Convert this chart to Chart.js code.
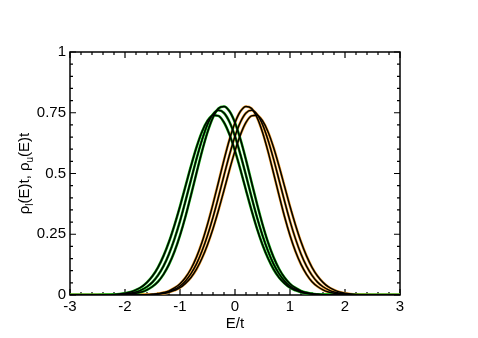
<!DOCTYPE html>
<html lang="en">
<head>
    <meta charset="UTF-8">
    <title>Density of states</title>
    <script src="https://cdn.jsdelivr.net/npm/chart.js"></script>
    <style>
        body {
            margin: 0;
            background: #ffffff;
        }

        .chart-box {
            width: 478px;
            height: 338px;
        }
    </style>
</head>
<body>
    <div class="chart-box">
        <canvas id="dosChart" width="478" height="338"></canvas>
    </div>

    <script>
        // energy grid E/t
        const energies = [
            -3.0, -2.9, -2.8, -2.7, -2.6, -2.5, -2.4, -2.3, -2.2, -2.1,
            -2.0, -1.9, -1.8, -1.7, -1.6, -1.5, -1.4, -1.3, -1.2, -1.1,
            -1.0, -0.9, -0.8, -0.7, -0.6, -0.5, -0.4, -0.3, -0.2, -0.1,
            0.0, 0.1, 0.2, 0.3, 0.4, 0.5, 0.6, 0.7, 0.8, 0.9,
            1.0, 1.1, 1.2, 1.3, 1.4, 1.5, 1.6, 1.7, 1.8, 1.9,
            2.0, 2.1, 2.2, 2.3, 2.4, 2.5, 2.6, 2.7, 2.8, 2.9, 3.0
        ];

        // rho_l (green curves)
        const lowerA = [
            0, 0, 0, 0, 0, 0, 0, 0, 0.001, 0.001,
            0.002, 0.004, 0.007, 0.012, 0.021, 0.035, 0.055, 0.085, 0.126, 0.179,
            0.245, 0.323, 0.411, 0.502, 0.591, 0.670, 0.731, 0.768, 0.776, 0.756,
            0.709, 0.640, 0.556, 0.465, 0.375, 0.291, 0.217, 0.156, 0.108, 0.072,
            0.046, 0.029, 0.017, 0.010, 0.005, 0.003, 0.002, 0.001, 0, 0,
            0, 0, 0, 0, 0, 0, 0, 0, 0, 0, 0
        ];
        const lowerB = [
            0, 0, 0, 0, 0, 0, 0, 0.001, 0.001, 0.002,
            0.004, 0.007, 0.012, 0.021, 0.034, 0.053, 0.081, 0.119, 0.169, 0.231,
            0.304, 0.387, 0.474, 0.560, 0.638, 0.702, 0.744, 0.760, 0.749, 0.712,
            0.653, 0.577, 0.492, 0.404, 0.320, 0.245, 0.181, 0.128, 0.088, 0.058,
            0.037, 0.023, 0.014, 0.008, 0.004, 0.002, 0.001, 0.001, 0, 0,
            0, 0, 0, 0, 0, 0, 0, 0, 0, 0, 0
        ];
        const lowerC = [
            0, 0, 0, 0, 0, 0, 0.001, 0.001, 0.002, 0.004,
            0.007, 0.012, 0.021, 0.033, 0.052, 0.078, 0.114, 0.161, 0.219, 0.288,
            0.365, 0.448, 0.531, 0.608, 0.672, 0.717, 0.740, 0.737, 0.710, 0.660,
            0.593, 0.515, 0.431, 0.349, 0.273, 0.207, 0.151, 0.106, 0.072, 0.048,
            0.030, 0.019, 0.011, 0.006, 0.004, 0.002, 0.001, 0.001, 0, 0,
            0, 0, 0, 0, 0, 0, 0, 0, 0, 0, 0
        ];

        // rho_u (orange curves)
        const upperA = [
            0, 0, 0, 0, 0, 0, 0, 0, 0, 0,
            0, 0, 0, 0.001, 0.002, 0.003, 0.005, 0.010, 0.017, 0.029,
            0.046, 0.072, 0.108, 0.156, 0.217, 0.291, 0.375, 0.465, 0.556, 0.640,
            0.709, 0.756, 0.776, 0.768, 0.731, 0.670, 0.591, 0.502, 0.411, 0.323,
            0.245, 0.179, 0.126, 0.085, 0.055, 0.035, 0.021, 0.012, 0.007, 0.004,
            0.002, 0.001, 0.001, 0, 0, 0, 0, 0, 0, 0, 0
        ];
        const upperB = [
            0, 0, 0, 0, 0, 0, 0, 0, 0, 0,
            0, 0, 0, 0.001, 0.001, 0.002, 0.004, 0.008, 0.014, 0.023,
            0.037, 0.058, 0.088, 0.128, 0.181, 0.245, 0.320, 0.404, 0.492, 0.577,
            0.653, 0.712, 0.749, 0.760, 0.744, 0.702, 0.638, 0.560, 0.474, 0.387,
            0.304, 0.231, 0.169, 0.119, 0.081, 0.053, 0.034, 0.021, 0.012, 0.007,
            0.004, 0.002, 0.001, 0.001, 0, 0, 0, 0, 0, 0, 0
        ];
        const upperC = [
            0, 0, 0, 0, 0, 0, 0, 0, 0, 0,
            0, 0, 0, 0.001, 0.001, 0.002, 0.004, 0.006, 0.011, 0.019,
            0.030, 0.048, 0.072, 0.106, 0.151, 0.207, 0.273, 0.349, 0.431, 0.515,
            0.593, 0.660, 0.710, 0.737, 0.740, 0.717, 0.672, 0.608, 0.531, 0.448,
            0.365, 0.288, 0.219, 0.161, 0.114, 0.078, 0.052, 0.033, 0.021, 0.012,
            0.007, 0.004, 0.002, 0.001, 0.001, 0, 0, 0, 0, 0, 0
        ];

        const xTicks = [-3, -2, -1, 0, 1, 2, 3];
        const yTicks = [0, 0.25, 0.5, 0.75, 1];

        const green = '#18b018';
        const orange = '#f0a030';
        const fontName = "'Liberation Sans', Arial, sans-serif";

        function points(vals) {
            return energies.map((e, i) => ({x: e, y: vals[i]}));
        }

        function curvePair(vals, color) {
            const base = {
                data: points(vals),
                pointRadius: 0,
                fill: false,
                cubicInterpolationMode: 'monotone'
            };
            return [
                Object.assign({}, base, {borderColor: '#000000', borderWidth: 1.5, order: 0}),
                Object.assign({}, base, {borderColor: color, borderWidth: 2.6, order: 1})
            ];
        }

        const datasets = [
            ...curvePair(lowerA, green),
            ...curvePair(lowerB, green),
            ...curvePair(lowerC, green),
            ...curvePair(upperA, orange),
            ...curvePair(upperB, orange),
            ...curvePair(upperC, orange)
        ];

        // frame with inward ticks on all four sides
        const frameTicks = {
            id: 'frameTicks',
            beforeDatasetsDraw(chart) {
                const ctx = chart.ctx;
                const {left, right, top, bottom} = chart.chartArea;
                const xs = chart.scales.x, ys = chart.scales.y;
                ctx.save();
                ctx.strokeStyle = '#000';
                ctx.lineWidth = 1.2;
                ctx.beginPath();
                for (let i = 0; i <= 30; i++) {
                    const px = xs.getPixelForValue(-3 + i * 0.2);
                    const len = i % 5 === 0 ? 6 : 3;
                    ctx.moveTo(px, bottom); ctx.lineTo(px, bottom - len);
                    ctx.moveTo(px, top); ctx.lineTo(px, top + len);
                }
                for (let i = 0; i <= 20; i++) {
                    const py = ys.getPixelForValue(i * 0.05);
                    const len = i % 5 === 0 ? 6 : 3;
                    ctx.moveTo(left, py); ctx.lineTo(left + len, py);
                    ctx.moveTo(right, py); ctx.lineTo(right - len, py);
                }
                ctx.stroke();
                ctx.lineWidth = 1.5;
                ctx.strokeRect(left, top, right - left, bottom - top);
                ctx.restore();
            }
        };

        // y title with subscripts
        const yTitle = {
            id: 'yTitle',
            afterDraw(chart) {
                const ctx = chart.ctx;
                const {top, bottom} = chart.chartArea;
                const parts = [
                    ['ρ', false], ['l', true], ['(E)t, ρ', false], ['u', true], ['(E)t', false]
                ];
                const big = '15px ' + fontName, small = '10px ' + fontName;
                ctx.save();
                let total = 0;
                parts.forEach(([t, sub]) => {
                    ctx.font = sub ? small : big;
                    total += ctx.measureText(t).width;
                });
                ctx.translate(29, (top + bottom) / 2);
                ctx.rotate(-Math.PI / 2);
                ctx.fillStyle = '#000';
                ctx.textBaseline = 'alphabetic';
                let x = -total / 2;
                parts.forEach(([t, sub]) => {
                    ctx.font = sub ? small : big;
                    ctx.fillText(t, x, sub ? 4 : 0);
                    x += ctx.measureText(t).width;
                });
                ctx.restore();
            }
        };

        new Chart(document.getElementById('dosChart'), {
            type: 'line',
            data: {datasets},
            options: {
                responsive: false,
                animation: false,
                devicePixelRatio: 1,
                layout: {padding: {top: 52, right: 78, left: 0, bottom: 0}},
                plugins: {legend: {display: false}, tooltip: {enabled: false}},
                scales: {
                    x: {
                        type: 'linear',
                        min: -3,
                        max: 3,
                        afterFit: s => { s.height = 43; },
                        afterBuildTicks: s => { s.ticks = xTicks.map(v => ({value: v})); },
                        grid: {display: false, drawTicks: false},
                        border: {display: false},
                        ticks: {
                            padding: 3,
                            color: '#000',
                            maxRotation: 0,
                            font: {family: fontName, size: 15},
                            callback: v => String(v)
                        },
                        title: {
                            display: true,
                            text: 'E/t',
                            color: '#000',
                            padding: {top: 0, bottom: 5},
                            font: {family: fontName, size: 15}
                        }
                    },
                    y: {
                        min: 0,
                        max: 1,
                        afterFit: s => { s.width = 70; },
                        afterBuildTicks: s => { s.ticks = yTicks.map(v => ({value: v})); },
                        grid: {display: false, drawTicks: false},
                        border: {display: false},
                        ticks: {
                            padding: 4,
                            color: '#000',
                            font: {family: fontName, size: 15},
                            callback: v => String(v)
                        }
                    }
                }
            },
            plugins: [frameTicks, yTitle]
        });
    </script>
</body>
</html>
